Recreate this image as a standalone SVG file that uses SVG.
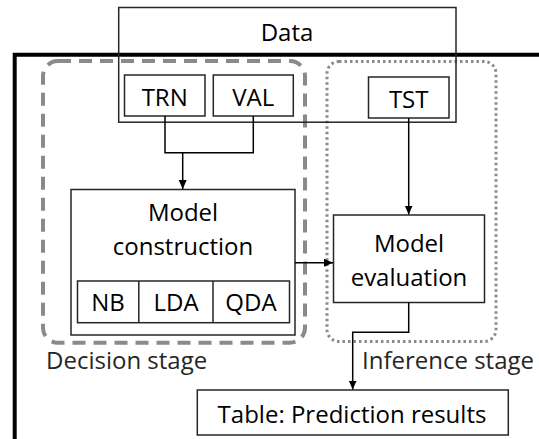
<svg xmlns="http://www.w3.org/2000/svg" width="539" height="439" viewBox="0 0 539 439">
<defs>
<style>
.box{fill:#fff;stroke:#262626;stroke-width:1.5}
.t{font-family:"Open Sans","Noto Sans",sans-serif;font-size:24px;fill:#000;text-anchor:middle}
.lbl{font-family:"Open Sans","Noto Sans",sans-serif;font-size:24px;fill:#262626}
.c{fill:none;stroke:#000;stroke-width:1.5}
</style>
<marker id="ah" markerWidth="10" markerHeight="10" refX="9" refY="5" orient="auto" markerUnits="userSpaceOnUse">
<path d="M0,1 L9,5 L0,9 Z" fill="#000"/>
</marker>
</defs>
<rect width="539" height="439" fill="#fff"/>
<g id="frame">
<path d="M539,54.7 H14.7 V439" fill="none" stroke="#000" stroke-width="4"/>
</g>
<g id="decision-stage">
<rect x="43" y="61" width="262" height="281.7" rx="15" fill="none" stroke="#8a8a8a" stroke-width="4" stroke-dasharray="13 8"/>
<text class="lbl" x="46" y="368.5">Decision stage</text>
</g>
<g id="inference-stage">
<rect x="327" y="61.5" width="169" height="280" rx="12" fill="none" stroke="#8a8a8a" stroke-width="3" stroke-dasharray="2.5 3"/>
<text class="lbl" x="362" y="368.5">Inference stage</text>
</g>
<g id="data">
<rect class="box" x="118.7" y="7.5" width="337.3" height="114.7" style="fill:none"/>
<text class="t" x="287" y="40.5">Data</text>
</g>
<g id="trn">
<rect class="box" x="124.5" y="75" width="80.5" height="41"/>
<text class="t" x="164.7" y="106">TRN</text>
</g>
<g id="val">
<rect class="box" x="213.3" y="75" width="80" height="41"/>
<text class="t" x="253.3" y="106">VAL</text>
</g>
<g id="tst">
<rect class="box" x="368.5" y="77" width="80.5" height="41"/>
<text class="t" x="408.7" y="107.5">TST</text>
</g>
<g id="model-construction">
<rect class="box" x="71" y="189.5" width="224" height="145.5"/>
<text class="t" x="183" y="221">Model</text>
<text class="t" x="183" y="255">construction</text>
<rect class="box" x="77.5" y="281" width="212" height="41.7"/>
<line x1="138.8" y1="281" x2="138.8" y2="322.7" stroke="#262626" stroke-width="1.5"/>
<line x1="213" y1="281" x2="213" y2="322.7" stroke="#262626" stroke-width="1.5"/>
<text class="t" x="108" y="311">NB</text>
<text class="t" x="176" y="311">LDA</text>
<text class="t" x="251" y="311">QDA</text>
</g>
<g id="model-evaluation">
<rect class="box" x="333.5" y="215" width="151" height="87.5"/>
<text class="t" x="409" y="252">Model</text>
<text class="t" x="409" y="286">evaluation</text>
</g>
<g id="table">
<rect class="box" x="197.3" y="390" width="311" height="45"/>
<text class="t" x="352" y="423">Table: Prediction results</text>
</g>
<g id="connectors">
<path class="c" d="M165,116 V152.7 H253.3 V116"/>
<path class="c" d="M182.7,152.7 V189" marker-end="url(#ah)"/>
<path class="c" d="M408.7,118 V214.5" marker-end="url(#ah)"/>
<path class="c" d="M295,262.7 H333" marker-end="url(#ah)"/>
<path class="c" d="M408.7,302.5 V332.3 H352.7 V389.5" marker-end="url(#ah)"/>
</g>
</svg>
